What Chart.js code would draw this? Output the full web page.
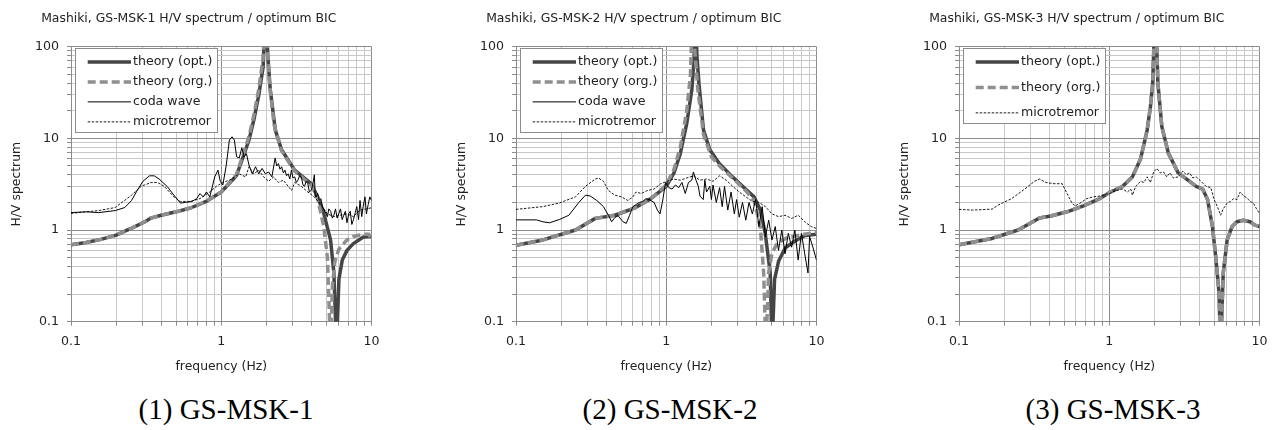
<!DOCTYPE html>
<html>
<head>
<meta charset="utf-8">
<script src="https://cdn.jsdelivr.net/npm/chart.js@4.4.0/dist/chart.umd.min.js"></script>
<style>
  html, body { margin: 0; padding: 0; background: #fff; }
  body { width: 1282px; height: 430px; position: relative; overflow: hidden; }
  canvas { position: absolute; top: 0; }
  .caption { position: absolute; top: 395px; width: 260px; margin-left: -130px; text-align: center;
             font-family: "Liberation Serif", "Times New Roman", serif; font-size: 29px; line-height: 29px; color: #000; }
</style>
</head>
<body>
<canvas id="c1" width="388" height="380" style="left:0px"></canvas>
<canvas id="c2" width="388" height="380" style="left:445px"></canvas>
<canvas id="c3" width="388" height="380" style="left:888px"></canvas>
<div class="caption" style="left:226px">(1) GS-MSK-1</div>
<div class="caption" style="left:670px">(2) GS-MSK-2</div>
<div class="caption" style="left:1113px">(3) GS-MSK-3</div>
<script>
// ticks / grid
const xGrid = [0.1,0.2,0.3,0.4,0.5,0.6,0.7,0.8,0.9,1,2,3,4,5,6,7,8,9,10];
const yGrid = [0.1,0.2,0.3,0.4,0.5,0.6,0.7,0.8,0.9,1,2,3,4,5,6,7,8,9,10,20,30,40,50,60,70,80,90,100];
const xTickValues = [0.1, 1, 10];
const xTickLabels = ["0.1", "1", "10"];
const yTickValues = [0.1, 1, 10, 100];
const yTickLabels = ["0.1", "1", "10", "100"];

const titles = [
  "Mashiki, GS-MSK-1 H/V spectrum / optimum BIC",
  "Mashiki, GS-MSK-2 H/V spectrum / optimum BIC",
  "Mashiki, GS-MSK-3 H/V spectrum / optimum BIC"
];
const seriesNames = ["theory (opt.)", "theory (org.)", "coda wave", "microtremor"];

// GS-MSK-1
const freq1Opt = [0.1,0.126,0.158,0.2,0.251,0.316,0.34,0.398,0.501,0.631,0.794,1.0,1.26,1.4,1.53,1.65,1.78,1.9,1.98,2.04,2.12,2.29,2.52,3.08,3.96,4.38,4.81,5.34,5.62,5.85,6.07,6.39,6.87,7.57,8.84,10];
const amp1Opt = [0.69,0.73,0.79,0.88,1.04,1.25,1.35,1.45,1.58,1.75,2.05,2.6,3.9,6.3,9.6,16,30,60,300,80,34,12.3,7.5,4.5,3.2,2.3,1.52,0.78,0.34,0.05,0.29,0.47,0.6,0.71,0.84,0.85];
const freq1Org = [0.1,0.126,0.158,0.2,0.251,0.316,0.34,0.398,0.501,0.631,0.794,1.0,1.26,1.4,1.53,1.65,1.78,1.9,1.97,2.03,2.1,2.25,2.52,3.08,3.96,4.38,4.81,5.09,5.34,5.5,5.7,6.07,6.87,7.57,8.84,9.6,10];
const amp1Org = [0.69,0.73,0.79,0.88,1.04,1.25,1.35,1.45,1.58,1.75,2.05,2.6,4.0,6.7,10.5,18,35,75,300,90,38,14,7.3,4.4,3.1,2.2,1.1,0.5,0.05,0.25,0.45,0.62,0.78,0.85,0.9,0.9,0.78];
const freq1Coda = [0.1,0.125,0.153,0.197,0.228,0.253,0.272,0.301,0.333,0.358,0.386,0.438,0.484,0.535,0.577,0.637,0.687,0.722,0.759,0.798,0.839,0.905,0.951,0.985,1.025,1.078,1.133,1.18,1.222,1.266,1.317,1.371,1.42,1.471,1.53,1.609,1.691,1.778,1.87,1.966,2.067,2.173,2.284,2.34,2.402,2.46,2.525,2.59,2.654,2.72,2.79,2.86,2.934,3.0,3.084,3.16,3.242,3.32,3.409,3.5,3.584,3.67,3.768,3.86,3.961,4.05,4.165,4.22,4.27,4.38,4.49,4.6,4.72,4.9,5.09,5.2,5.35,5.48,5.62,5.76,5.91,6.05,6.22,6.38,6.54,6.7,6.87,7.05,7.22,7.4,7.59,7.8,7.98,8.2,8.39,8.61,8.8,9.05,9.25,9.51,9.75,10];
const amp1Coda = [1.55,1.58,1.55,1.63,1.76,2.1,2.6,3.4,3.9,3.9,3.6,2.97,2.4,1.97,2.0,2.05,2.2,2.5,2.3,2.6,2.3,3.8,4.5,3.4,3.1,5.0,9.6,10.4,9.6,6.3,6.1,7.9,6.3,6.8,5.1,4.1,4.9,4.1,4.7,4.1,4.3,3.8,6.1,5.0,5.3,4.6,4.9,4.2,4.5,3.9,4.1,3.6,4.5,3.7,3.8,3.3,3.5,3.9,3.8,3.1,3.0,3.4,3.2,2.6,2.7,3.0,4.0,2.4,2.3,2.5,2.1,2.2,1.8,1.6,1.4,1.7,1.6,1.35,1.45,1.7,1.35,1.5,1.7,1.3,1.45,1.6,1.2,1.5,1.6,1.15,1.3,1.55,1.8,1.3,2.1,1.4,1.8,2.3,1.5,1.9,2.3,2.1];
const freq1Micro = [0.1,0.153,0.197,0.253,0.293,0.341,0.377,0.417,0.484,0.535,0.622,0.722,0.839,0.928,1.025,1.133,1.317,1.455,1.53,1.649,1.778,1.917,2.067,2.228,2.402,2.589,2.79,2.934,3.084,3.409,3.768,4.165,4.6,5.09,5.62,6.22,6.87,7.59,8.39,9.27,10];
const amp1Micro = [1.52,1.63,1.76,2.4,3.0,3.3,3.3,3.0,2.3,2.05,2.05,2.2,2.6,3.0,3.3,3.5,4.1,3.8,4.9,4.1,4.5,3.8,3.4,3.8,3.3,3.5,3.0,2.7,3.3,3.0,2.6,2.3,1.9,1.5,1.4,1.45,1.5,1.4,1.65,1.7,1.75];

// GS-MSK-2
const freq2Opt = [0.1,0.151,0.249,0.337,0.455,0.613,0.79,1.0,1.126,1.24,1.37,1.48,1.53,1.56,1.6,1.65,1.77,1.95,2.26,2.76,3.37,3.84,4.23,4.56,4.92,5.06,5.26,5.6,6.2,7.2,8.4,10];
const amp2Opt = [0.68,0.78,1.0,1.34,1.45,1.73,2.2,3.0,4.2,6.8,14.6,34,70,300,80,40,12.3,7.5,5.3,3.8,2.8,2.3,1.65,0.92,0.34,0.05,0.29,0.46,0.64,0.76,0.87,0.9];
const freq2Org = [0.1,0.151,0.249,0.337,0.455,0.613,0.79,1.0,1.126,1.24,1.37,1.45,1.5,1.55,1.62,1.77,2.0,2.26,2.76,3.37,3.84,4.23,4.45,4.61,4.8,5.06,5.5,6.3,7.5,10];
const amp2Org = [0.68,0.78,1.0,1.34,1.45,1.73,2.2,3.1,4.6,8,20,50,300,90,35,11,6.3,5.0,3.7,2.7,2.1,1.07,0.34,0.05,0.34,0.56,0.72,0.82,0.87,0.95];
const freq2Coda = [0.1,0.137,0.151,0.167,0.194,0.225,0.262,0.29,0.312,0.345,0.382,0.412,0.433,0.455,0.478,0.516,0.542,0.57,0.6,0.63,0.663,0.697,0.733,0.77,0.83,0.873,0.909,0.942,0.99,1.041,1.094,1.151,1.21,1.272,1.338,1.406,1.479,1.516,1.578,1.635,1.676,1.763,1.807,1.854,1.949,1.998,2.048,2.154,2.265,2.358,2.442,2.568,2.70,2.839,2.94,3.061,3.218,3.384,3.557,3.741,3.933,4.135,4.348,4.572,4.807,5.054,5.314,5.588,5.875,6.177,6.495,6.829,7.18,7.55,7.94,8.35,8.78,9.0,9.46,10];
const amp2Coda = [1.29,1.29,1.23,1.2,1.3,1.45,2.0,2.4,2.35,2.1,1.8,1.45,1.23,1.37,1.43,1.23,1.18,1.45,1.8,1.9,2.0,2.05,2.2,2.15,2.0,1.65,1.5,2.0,3.3,2.9,2.8,3.1,2.9,3.3,2.5,3.3,3.5,4.3,3.5,3.0,2.35,2.15,3.5,2.6,3.0,2.15,3.1,2.0,2.9,1.8,3.0,1.65,2.6,1.5,2.15,1.38,2.0,1.28,2.0,1.5,2.15,1.09,1.8,0.85,1.28,0.78,1.09,0.6,1.0,0.55,0.92,0.65,1.0,0.47,0.92,0.55,0.34,0.85,0.65,0.47];
const freq2Micro = [0.1,0.151,0.194,0.249,0.29,0.337,0.354,0.382,0.412,0.455,0.503,0.556,0.6,0.63,0.68,0.751,0.83,0.918,1.015,1.122,1.241,1.372,1.516,1.676,1.854,2.048,2.265,2.504,2.768,3.061,3.384,3.741,4.135,4.572,5.054,5.588,6.177,6.829,7.55,8.35,9.23,10];
const amp2Micro = [1.68,1.8,1.97,2.3,3.0,3.6,3.7,3.4,2.7,2.4,2.3,2.1,2.3,2.6,2.5,2.7,2.8,3.2,3.4,3.6,3.5,3.7,3.9,3.5,3.6,3.4,3.9,3.5,3.0,2.6,2.3,2.05,2.0,1.8,1.5,1.4,1.45,1.34,1.45,1.23,1.09,1.04];

// GS-MSK-3
const freq3Opt = [0.1,0.166,0.2475,0.302,0.343,0.408,0.524,0.673,0.865,1.0,1.228,1.427,1.617,1.788,1.879,1.946,2.025,2.108,2.239,2.475,2.875,3.341,3.787,4.185,4.512,4.864,5.113,5.376,5.512,5.737,6.092,6.569,7.079,7.826,8.65,9.325,10];
const amp3Opt = [0.69,0.81,1.0,1.2,1.35,1.42,1.58,1.83,2.2,2.55,3.0,3.8,6.0,12.3,22,39.8,300,39.8,13.4,6.9,4.2,3.5,3.0,2.8,2.15,1.09,0.51,0.21,0.05,0.34,0.78,1.09,1.23,1.28,1.23,1.13,1.09];
const freq3Org = freq3Opt;
const amp3Org = amp3Opt;
const freq3Micro = [0.1,0.123,0.166,0.183,0.224,0.274,0.318,0.343,0.379,0.429,0.486,0.524,0.565,0.594,0.641,0.708,0.783,0.865,0.933,1.005,1.111,1.228,1.323,1.391,1.427,1.5,1.617,1.7,1.788,1.879,1.975,2.077,2.183,2.296,2.413,2.537,2.668,2.875,3.099,3.258,3.426,3.601,3.787,4.083,4.401,4.744,4.988,5.243,5.512,5.737,6.092,6.407,6.734,7.079,7.442,7.826,8.227,8.65,9.094,9.56,10];
const amp3Micro = [1.68,1.65,1.69,1.88,2.2,2.8,3.4,3.6,3.3,3.2,3.2,2.5,1.97,1.83,1.97,2.2,2.3,2.35,2.45,2.5,2.7,2.8,2.6,2.8,2.4,3.0,3.4,3.3,3.8,3.3,4.3,4.7,4.2,4.3,3.8,4.2,3.7,3.8,4.4,4.0,4.2,3.7,3.8,3.4,3.0,2.9,2.15,1.8,1.45,1.7,1.97,2.05,2.2,2.15,2.6,2.35,2.25,2.05,1.97,1.7,1.52];

Chart.defaults.font.family = "'DejaVu Sans', sans-serif";
Chart.defaults.font.size = 12;
const fuente = { family: "'DejaVu Sans', sans-serif", size: 12.4, weight: "normal" };
const fuenteTicks = { family: "'DejaVu Sans', sans-serif", size: 12.6, weight: "normal" };
const textColor = "#222";

function esDecada(v) {
  let l = Math.log10(v);
  return Math.abs(l - Math.round(l)) < 1e-6;
}
function etiqueta(v, valores, etiquetas) {
  for (let i = 0; i < valores.length; i++) {
    if (Math.abs(v - valores[i]) < 1e-9) return etiquetas[i];
  }
  return "";
}
function colorGrid(c) {
  return c.tick && esDecada(c.tick.value) ? "#8c8c8c" : "#c8c8c8";
}

// line styles
function serie(label, freqs, amps, tipo) {
  let st = {
    opt:   { color: "#454545", width: 3.5, dash: [],     order: 4 },
    org:   { color: "#8f8f8f", width: 3.5, dash: [8, 4], order: 3 },
    coda:  { color: "#000000", width: 1,   dash: [],     order: 2 },
    micro: { color: "#000000", width: 0.9, dash: [2.5, 1.5], order: 1 }
  }[tipo];
  return {
    label: label,
    data: freqs.map((f, i) => ({ x: f, y: amps[i] })),
    borderColor: st.color,
    borderWidth: st.width,
    borderDash: st.dash,
    borderJoinStyle: "round",
    pointRadius: 0,
    tension: 0,
    fill: false,
    clip: 0,
    order: st.order
  };
}

// legend box inside the plot area
const legendInside = {
  id: "legendInside",
  afterDatasetsDraw(chart, args, opts) {
    let ctx = chart.ctx;
    let area = chart.chartArea;
    let x0 = area.left + 4, y0 = area.top + 1.5;
    let w = 142, h = opts.height;
    let items = chart.data.datasets;
    ctx.save();
    ctx.fillStyle = "#fff";
    ctx.fillRect(x0, y0, w, h);
    ctx.strokeStyle = "#8c8c8c";
    ctx.lineWidth = 1;
    ctx.strokeRect(Math.round(x0) + 0.5, Math.round(y0) + 0.5, w, h);
    let first = y0 + 13.7, last = y0 + h - 10.3;
    let step = items.length > 1 ? (last - first) / (items.length - 1) : 0;
    for (let i = 0; i < items.length; i++) {
      let ds = items[i];
      let y = first + step * i;
      ctx.beginPath();
      ctx.setLineDash(ds.borderDash || []);
      ctx.strokeStyle = ds.borderColor;
      ctx.lineWidth = ds.borderWidth;
      ctx.moveTo(x0 + 12.7, y);
      ctx.lineTo(x0 + 56, y);
      ctx.stroke();
      ctx.setLineDash([]);
      ctx.fillStyle = textColor;
      ctx.font = "12.6px 'DejaVu Sans', sans-serif";
      ctx.textBaseline = "middle";
      ctx.textAlign = "left";
      ctx.fillText(ds.label, x0 + 58, y);
    }
    ctx.restore();
  }
};

function crearGrafico(id, titulo, series, alturaLeyenda) {
  return new Chart(document.getElementById(id), {
    type: "line",
    data: { datasets: series },
    options: {
      responsive: false,
      animation: false,
      layout: { padding: { left: 0, right: 10.5, top: 0, bottom: 6.1 } },
      scales: {
        x: {
          type: "logarithmic",
          min: 0.1,
          max: 10,
          afterBuildTicks: (s) => { s.ticks = xGrid.map(v => ({ value: v })); },
          afterFit: (s) => { s.height = 52.2; },
          grid: { color: colorGrid, lineWidth: 1, tickLength: 4, tickColor: "#8c8c8c" },
          border: { color: "#8c8c8c", width: 1 },
          ticks: {
            autoSkip: false, maxRotation: 0, padding: 8.5, color: textColor, font: fuenteTicks,
            callback: (v) => etiqueta(v, xTickValues, xTickLabels)
          },
          title: { display: true, text: "frequency (Hz)", color: textColor, font: fuente, padding: { top: 0, bottom: 0 } }
        },
        y: {
          type: "logarithmic",
          min: 0.1,
          max: 100,
          afterBuildTicks: (s) => { s.ticks = yGrid.map(v => ({ value: v })); },
          afterFit: (s) => { s.width = 71; },
          grid: { color: colorGrid, lineWidth: 1, tickLength: 4, tickColor: "#8c8c8c" },
          border: { color: "#8c8c8c", width: 1 },
          ticks: {
            autoSkip: false, padding: 8, color: textColor, font: fuenteTicks,
            callback: (v) => etiqueta(v, yTickValues, yTickLabels)
          },
          title: { display: true, text: "H/V spectrum", color: textColor, font: fuente, padding: { top: 9.6, bottom: 0 } }
        }
      },
      plugins: {
        legend: { display: false },
        tooltip: { enabled: false },
        title: { display: true, text: titulo, color: textColor, font: fuente, padding: { top: 11.6, bottom: 20.2 } },
        legendInside: { height: alturaLeyenda }
      }
    },
    plugins: [legendInside]
  });
}

crearGrafico("c1", titles[0], [
  serie(seriesNames[0], freq1Opt, amp1Opt, "opt"),
  serie(seriesNames[1], freq1Org, amp1Org, "org"),
  serie(seriesNames[2], freq1Coda, amp1Coda, "coda"),
  serie(seriesNames[3], freq1Micro, amp1Micro, "micro")
], 84);
crearGrafico("c2", titles[1], [
  serie(seriesNames[0], freq2Opt, amp2Opt, "opt"),
  serie(seriesNames[1], freq2Org, amp2Org, "org"),
  serie(seriesNames[2], freq2Coda, amp2Coda, "coda"),
  serie(seriesNames[3], freq2Micro, amp2Micro, "micro")
], 84);
crearGrafico("c3", titles[2], [
  serie(seriesNames[0], freq3Opt, amp3Opt, "opt"),
  serie(seriesNames[1], freq3Org, amp3Org, "org"),
  serie(seriesNames[3], freq3Micro, amp3Micro, "micro")
], 75);
</script>
</body>
</html>
